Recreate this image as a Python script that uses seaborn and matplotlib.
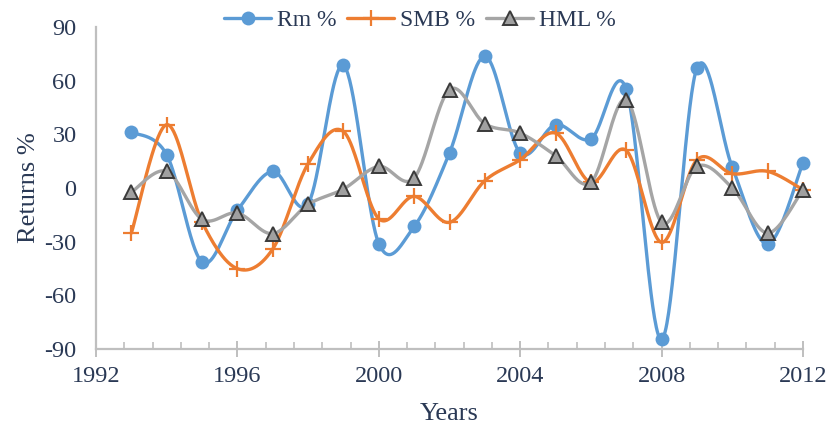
import numpy as np
import pandas as pd
import matplotlib
matplotlib.use("Agg")
import matplotlib.pyplot as plt
from matplotlib.lines import Line2D
from matplotlib.ticker import MultipleLocator
import seaborn as sns

years = list(range(1993, 2013))
rm = [31.3, 18.6, -41.4, -12.5, 9.3, -8.8, 68.5, -31.1, -21.5, 19.6,
      73.6, 19.6, 35.4, 27.4, 55.3, -84.6, 67.1, 11.5, -31.3, 14.0]
smb = [-25.2, 35.4, -19.0, -45.1, -34.1, 13.6, 31.6, -17.2, -4.7, -19.2,
       4.1, 15.8, 30.7, 3.1, 21.0, -30.4, 15.8, 8.0, 9.3, -1.0]
hml = [-2.4, 9.3, -17.5, -14.0, -25.5, -9.2, -0.6, 12.1, 5.6, 55.0,
       35.9, 30.7, 18.1, 3.1, 49.4, -19.2, 12.1, 0.0, -25.2, -1.0]
series_names = ["Rm %", "SMB %", "HML %"]

TEXT = "#2A3955"
AXIS = "#BFBFBF"

sns.set_theme(style="white")
plt.rcParams["font.family"] = ["Liberation Serif", "DejaVu Serif"]
plt.rcParams["axes.unicode_minus"] = False


def smooth_curve(x, y, n=40):
    """Bezier smoothing through every point (control points from neighbours)."""
    P = np.column_stack([np.asarray(x, float), np.asarray(y, float)])
    out = []
    last = len(P) - 2
    for i in range(len(P) - 1):
        p0 = P[i - 1] if i > 0 else P[i]
        p1, p2 = P[i], P[i + 1]
        p3 = P[i + 2] if i + 2 < len(P) else P[i + 1]
        c1 = p1 + (p2 - p0) / 6.0
        c2 = p2 - (p3 - p1) / 6.0
        t = np.linspace(0, 1, n, endpoint=(i == last))[:, None]
        seg = ((1 - t) ** 3) * p1 + 3 * (1 - t) ** 2 * t * c1 \
            + 3 * (1 - t) * t ** 2 * c2 + t ** 3 * p2
        out.append(seg)
    B = np.vstack(out)
    return B[:, 0], B[:, 1]


styles = {
    "Rm %": dict(color="#5B9BD5", marker="o", ms=10, mfc="#5B9BD5", mec="#5B9BD5", mew=0),
    "SMB %": dict(color="#ED7D31", marker="+", ms=11, mfc="#ED7D31", mec="#ED7D31", mew=1.6),
    "HML %": dict(color="#A5A5A5", marker="^", ms=10, mfc="#A0A0A0", mec="#3A3A3A", mew=1.4),
}

fig = plt.figure(figsize=(8.30, 4.29), dpi=100)
ax = fig.add_axes([96 / 830, 1 - 349 / 429, (803 - 96) / 830, (349 - 27) / 429])

data = pd.DataFrame({"Year": years, "Rm %": rm, "SMB %": smb, "HML %": hml})

handles = []
for k, name in enumerate(series_names):
    st = styles[name]
    sx, sy = smooth_curve(data["Year"], data[name])
    curve = pd.DataFrame({"Year": sx, "Value": sy})
    sns.lineplot(data=curve, x="Year", y="Value", ax=ax, color=st["color"],
                 linewidth=2.4, sort=False, estimator=None, legend=False,
                 zorder=3 + 2 * k)
    ax.plot(data["Year"], data[name], linestyle="none", marker=st["marker"],
            markersize=st["ms"], markerfacecolor=st["mfc"],
            markeredgecolor=st["mec"], markeredgewidth=st["mew"],
            zorder=4 + 2 * k, clip_on=False)
    handles.append(Line2D([], [], color=st["color"], linewidth=2.4,
                          marker=st["marker"], markersize=st["ms"],
                          markerfacecolor=st["mfc"], markeredgecolor=st["mec"],
                          markeredgewidth=st["mew"]))

ax.set_xlim(1992, 2012)
ax.set_ylim(-90, 90)
ax.xaxis.set_major_locator(MultipleLocator(4))
ax.xaxis.set_minor_locator(MultipleLocator(0.8))
ax.yaxis.set_major_locator(MultipleLocator(30))

for side in ("top", "right"):
    ax.spines[side].set_visible(False)
for side in ("left", "bottom"):
    ax.spines[side].set_color(AXIS)
    ax.spines[side].set_linewidth(1.6)

ax.tick_params(axis="x", which="major", direction="inout", length=12, width=1.4,
               color=AXIS, labelsize=17.5, labelcolor=TEXT, pad=6, bottom=True)
ax.tick_params(axis="x", which="minor", direction="in", length=5, width=1.2,
               color=AXIS, bottom=True)
ax.tick_params(axis="y", which="both", length=0, labelsize=17.5,
               labelcolor=TEXT, pad=14)
ax.grid(False)

ax.set_xlabel("Years", fontsize=19, color=TEXT, labelpad=12)
ax.set_ylabel("Returns %", fontsize=19, color=TEXT, labelpad=3)

fig.legend(handles, series_names, loc="upper center", ncol=3,
           bbox_to_anchor=(420 / 830, 1.028), frameon=False, fontsize=17,
           handlelength=2.0, handletextpad=0.25, columnspacing=0.45,
           labelcolor=TEXT)

fig.savefig("out.png", dpi=100)
